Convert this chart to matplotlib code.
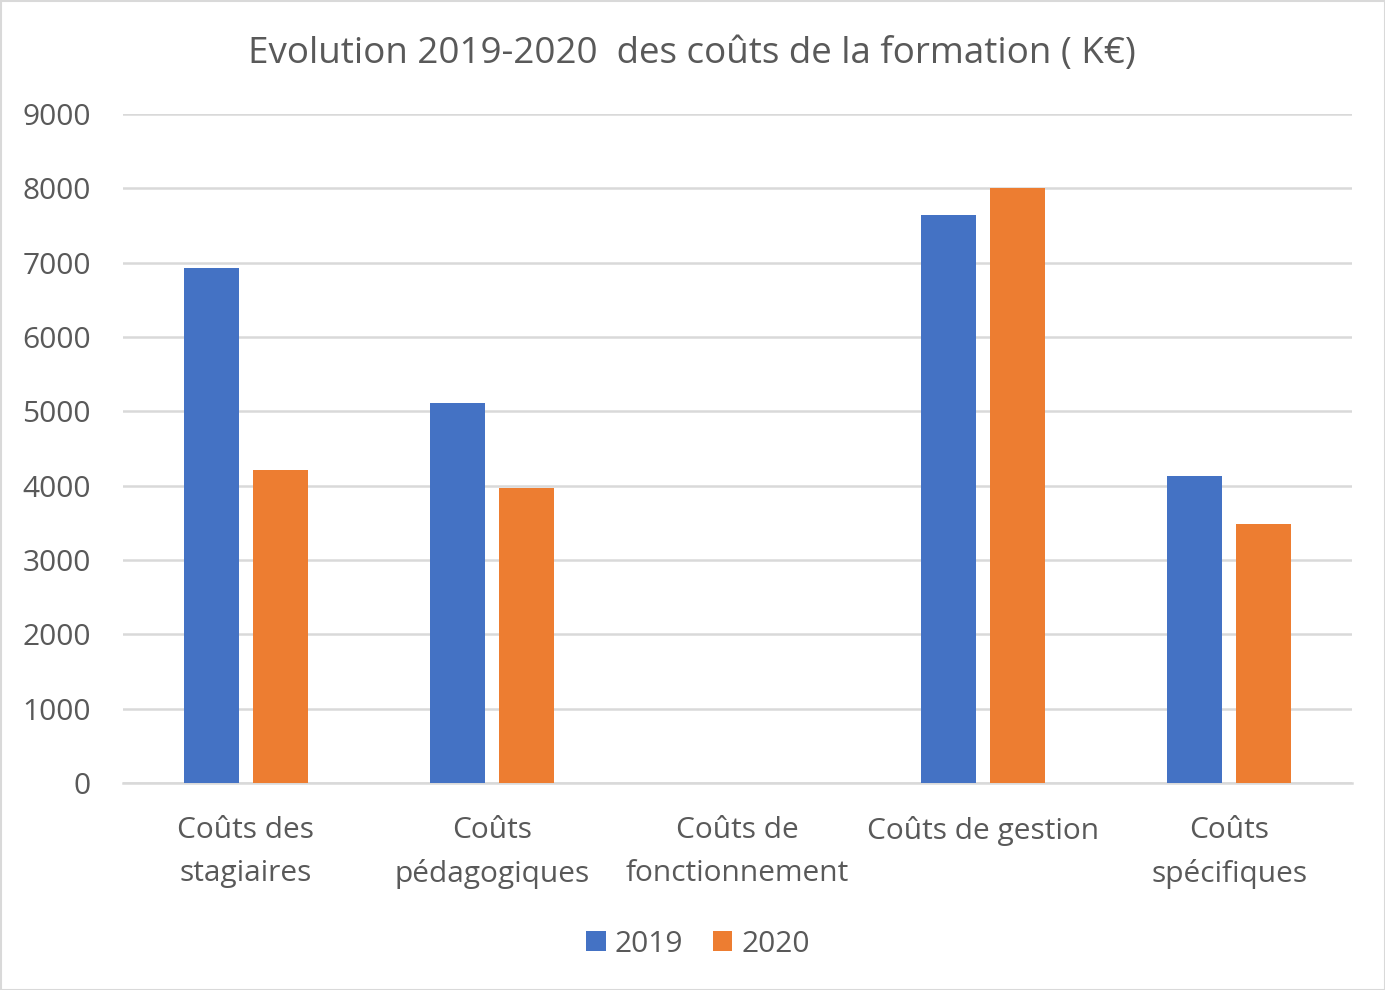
import matplotlib
matplotlib.use("Agg")
import matplotlib.pyplot as plt
import numpy as np
from matplotlib.patches import Rectangle

categories = ["Coûts des\nstagiaires", "Coûts\npédagogiques", "Coûts de\nfonctionnement",
              "Coûts de gestion", "Coûts\nspécifiques"]
values_2019 = [6925, 5110, 0, 7640, 4130]
values_2020 = [4205, 3970, 0, 8010, 3480]
series_labels = ["2019", "2020"]
yticks = [0, 1000, 2000, 3000, 4000, 5000, 6000, 7000, 8000, 9000]
title = "Evolution 2019-2020  des coûts de la formation ( K€)"

plt.rcParams['font.family'] = ['Open Sans', 'DejaVu Sans']
txt = "#595959"

fig = plt.figure(figsize=(13.85, 9.9), dpi=100)
ax = fig.add_axes([123/1385, 1-783/990, (1352-123)/1385, (783-114)/990])

x = np.arange(len(categories))
w = 0.224
off = 0.141
ax.bar(x - off, values_2019, w, color="#4472C4", label=series_labels[0], zorder=3)
ax.bar(x + off, values_2020, w, color="#ED7D31", label=series_labels[1], zorder=3)

ax.set_xlim(-0.5, len(categories) - 0.5)
ax.set_ylim(0, 9000)
ax.set_yticks(yticks)
ax.set_yticklabels([str(v) for v in yticks])
ax.set_xticks(x)
ax.set_xticklabels(categories, linespacing=1.6)
ax.grid(axis='y', color="#D9D9D9", linewidth=1.8, zorder=0)
ax.set_axisbelow(True)
for s in ["top", "right", "left"]:
    ax.spines[s].set_visible(False)
ax.spines["bottom"].set_color("#D9D9D9")
ax.spines["bottom"].set_linewidth(1.8)
ax.tick_params(axis='both', length=0, colors=txt, labelsize=21.5)
ax.tick_params(axis='y', pad=23)
ax.tick_params(axis='x', pad=24)

fig.text(692/1385, 1-54/990, title, ha='center', va='center', fontsize=26.5, color=txt)

leg = fig.legend(loc='center', bbox_to_anchor=(698/1385, 1-944/990), ncol=2, frameon=False,
                 fontsize=21.5, handlelength=0.65, handleheight=0.65, handletextpad=0.3,
                 columnspacing=1.0, labelcolor=txt)

fig.patches.append(Rectangle((0.5/1385, 0.5/990), 1-1/1385, 1-1/990, transform=fig.transFigure,
                             fill=False, edgecolor="#D9D9D9", linewidth=1.5))

fig.savefig("out.png", dpi=100)
